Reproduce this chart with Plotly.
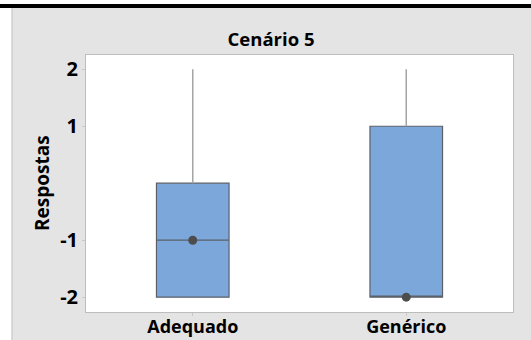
import plotly.graph_objects as go

# Survey responses, scenario 5 — summary statistics per group
groups = ["Adequado", "Genérico"]
q1 = [-2, -2]
median = [-1, -2]
q3 = [0, 1]
lower = [-2, -2]
upper = [2, 2]
mean = [-1, -2]

y_ticks = [-2, -1, 1, 2]

BOX_FILL = "#7ba7da"
BOX_LINE = "#5c6068"
FONT = "Open Sans"

W, H = 531, 340
ML, MR, MT, MB = 86, 18, 55, 28
PW, PH = W - ML - MR, H - MT - MB


def px(x):
    return (x - ML) / PW


def py(y):
    return (H - MB - y) / PH


fig = go.Figure()

# boxes (whiskers drawn separately so they can be lighter)
fig.add_trace(go.Box(
    x=groups, q1=q1, median=median, q3=q3,
    lowerfence=q1, upperfence=q3,
    fillcolor=BOX_FILL,
    line=dict(color=BOX_LINE, width=1.2),
    width=0.34, whiskerwidth=0,
    hoverinfo="skip", showlegend=False,
))

# whiskers: from box edges out to the extremes
for g, lo, a, b, hi in zip(groups, lower, q1, q3, upper):
    for y0, y1 in ((lo, a), (b, hi)):
        if y0 != y1:
            fig.add_trace(go.Scatter(
                x=[g, g], y=[y0, y1], mode="lines",
                line=dict(color="#a4a4a4", width=1.5),
                hoverinfo="skip", showlegend=False,
            ))

# mean symbols
fig.add_trace(go.Scatter(
    x=groups, y=mean, mode="markers",
    marker=dict(color="#4d4d4d", size=9),
    hoverinfo="skip", showlegend=False,
))

fig.update_layout(
    width=W, height=H,
    margin=dict(l=ML, r=MR, t=MT, b=MB, autoexpand=False),
    paper_bgcolor="#e4e4e4",
    plot_bgcolor="#ffffff",
    font=dict(family=FONT, color="#000000"),
    title=dict(text="<b>Cenário 5</b>", x=271 / W, xanchor="center",
               y=1 - 40 / H, yanchor="middle", yref="container",
               font=dict(family=FONT, size=18.5, color="#000000")),
    xaxis=dict(
        type="category", range=[-0.5, 1.5], automargin=False,
        showline=True, linecolor="#bdbdbd", linewidth=1, mirror=True,
        ticks="outside", ticklen=3, tickcolor="#c8c8c8",
        ticklabelstandoff=-5,
        tickfont=dict(family=FONT, size=18, color="#000000"),
        tickprefix="<b>", ticksuffix="</b>",
        showgrid=False, zeroline=False, fixedrange=True,
    ),
    yaxis=dict(
        range=[-2.26, 2.25], automargin=False,
        tickvals=y_ticks, ticktext=[f"<b>{v}</b>" for v in y_ticks],
        showline=True, linecolor="#bdbdbd", linewidth=1, mirror=True,
        ticks="outside", ticklen=3, tickcolor="#c8c8c8",
        tickfont=dict(family=FONT, size=20, color="#000000"),
        showgrid=False, zeroline=False, fixedrange=True,
    ),
    annotations=[dict(
        text="<b>Respostas</b>", textangle=-90,
        xref="paper", yref="paper",
        x=px(42), y=py(183), xanchor="center", yanchor="middle",
        showarrow=False,
        font=dict(family=FONT, size=19, color="#000000"),
    )],
    shapes=[
        # light strip on the far left
        dict(type="rect", xref="paper", yref="paper",
             x0=px(0), x1=px(12), y0=py(H), y1=py(0),
             fillcolor="#ffffff", line=dict(width=0), layer="below"),
        dict(type="line", xref="paper", yref="paper",
             x0=px(12), x1=px(12), y0=py(H), y1=py(0),
             line=dict(color="#cfcfcf", width=1.5), layer="below"),
        # white top strip and black rule
        dict(type="rect", xref="paper", yref="paper",
             x0=px(0), x1=px(W), y0=py(4), y1=py(0),
             fillcolor="#ffffff", line=dict(width=0), layer="below"),
        dict(type="rect", xref="paper", yref="paper",
             x0=px(0), x1=px(W), y0=py(8), y1=py(4),
             fillcolor="#000000", line=dict(width=0), layer="below"),
    ],
)

fig.write_html("out.html")
